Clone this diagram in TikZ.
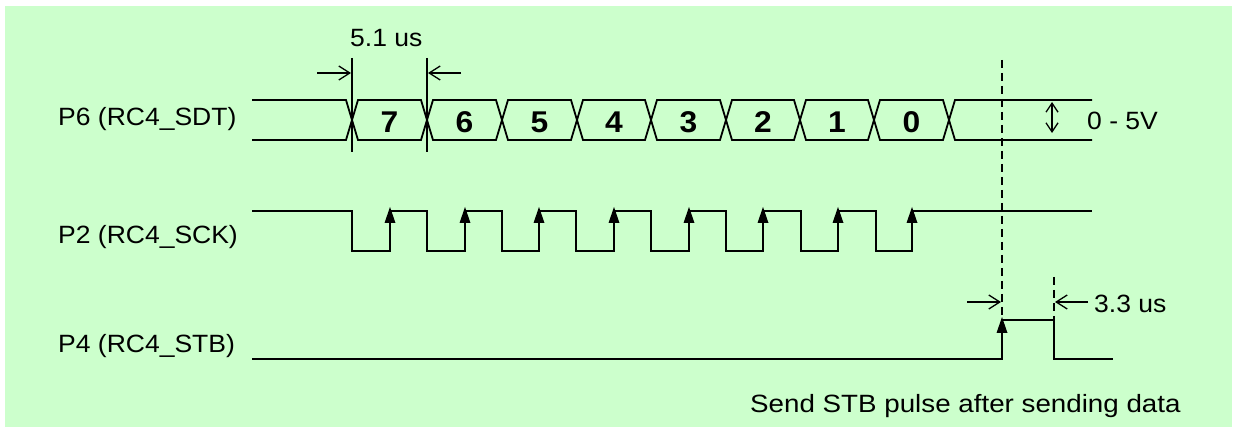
\documentclass[tikz,border=0pt]{standalone}
\usepackage{fontspec}
\setmainfont{Liberation Sans}[FakeStretch=1.06]
\newfontfamily\sendfont{Liberation Sans}[FakeStretch=1.11]
\usetikzlibrary{arrows.meta}
\definecolor{bggreen}{HTML}{CCFFCC}
\tikzset{
  lbl/.style={inner sep=0pt, anchor=base west, font=\fontsize{25}{30}\selectfont},
  digit/.style={inner sep=0pt, anchor=base, font=\fontsize{30}{34}\selectfont\bfseries},
  wave/.style={line width=1.8pt, line join=miter},
  marker/.style={line width=1.4pt},
  dimarrow/.style={line width=1.3pt, -{Straight Barb[length=11pt,width=14pt,line width=1.3pt]}},
  vdash/.style={line width=1.8pt, dash pattern=on 8pt off 5pt},
}
\begin{document}
\begin{tikzpicture}[x=1pt,y=-1pt]
\useasboundingbox (0,0) rectangle (1235,430);
\fill[white] (0,0) rectangle (1235,430);
\fill[bggreen] (5,6) rectangle (1232,427);

% labels
\node[lbl] (lsdt) at (58,126) {P6 (RC4\_SDT)};
\node[lbl] (lsck) at (58,244) {P2 (RC4\_SCK)};
\node[lbl] (lstb) at (58,353) {P4 (RC4\_STB)};
\node[lbl] (t51) at (350,47) {5.1 us};
\node[lbl] (t05) at (1087,130) {0 - 5V};
\node[lbl] (t33) at (1094,313) {3.3 us};
\node[lbl, font=\fontsize{25}{30}\sendfont] (tsend) at (750,413) {Send STB pulse after sending data};

% data bus
\draw[wave] (252,100) -- (346,100) -- (352,120) -- (346,140) -- (252,140);
\foreach \a/\b/\d in {352/427/7, 427/502/6, 502/577/5, 577/651/4, 651/726/3, 726/800/2, 800/874/1, 874/949/0}{
  \draw[wave] (\a,120) -- (\a+6,100) -- (\b-6,100) -- (\b,120) -- (\b-6,140) -- (\a+6,140) -- cycle;
  \node[digit] (d\d) at ({(\a+\b)/2},133) {\d};
}
\draw[wave] (1092,100) -- (955,100) -- (949,120) -- (955,140) -- (1092,140);

% 5.1 us markers
\coordinate (m1t) at (352,58); \coordinate (m1b) at (352,152);
\coordinate (m2t) at (427,58); \coordinate (m2b) at (427,152);
\draw[marker] (m1t) -- (m1b);
\draw[marker] (m2t) -- (m2b);
\coordinate (a1s) at (317,73); \coordinate (a1e) at (351,73);
\coordinate (a2s) at (461,73); \coordinate (a2e) at (428,73);
\draw[dimarrow] (a1s) -- (a1e);
\draw[dimarrow] (a2s) -- (a2e);

% 0 - 5V double arrow
\coordinate (vt) at (1052,102); \coordinate (vb) at (1052,133);
\draw[line width=1.3pt, {Straight Barb[length=9pt,width=12pt,line width=1.3pt]}-{Straight Barb[length=9pt,width=12pt,line width=1.3pt]}] (vt) -- (vb);

% clock
\draw[wave] (252,211) -- (352,211) -- (352,251)
  -- (390,251) -- (390,211) -- (427,211) -- (427,251)
  -- (465,251) -- (465,211) -- (502,211) -- (502,251)
  -- (539,251) -- (539,211) -- (576,211) -- (576,251)
  -- (614,251) -- (614,211) -- (651,211) -- (651,251)
  -- (689,251) -- (689,211) -- (726,211) -- (726,251)
  -- (763,251) -- (763,211) -- (801,211) -- (801,251)
  -- (838,251) -- (838,211) -- (876,211) -- (876,251)
  -- (912,251) -- (912,211) -- (1092,211);
\foreach \x in {390,465,539,614,689,763,838,912}{
  \fill (\x,207) -- (\x-5.5,223) -- (\x+5.5,223) -- cycle;
}

% strobe
\draw[wave] (252,359) -- (1002,359) -- (1002,320) -- (1054,320) -- (1054,359) -- (1113,359);
\fill (1002,317) -- (996.5,333) -- (1007.5,333) -- cycle;

% dashed markers
\coordinate (dt) at (1002,60); \coordinate (db) at (1002,320);
\draw[vdash] (dt) -- (db);
\coordinate (d2t) at (1054,277); \coordinate (d2b) at (1054,320);
\draw[vdash] (d2t) -- (d2b);

% 3.3 us arrows
\coordinate (b1s) at (967,302); \coordinate (b1e) at (1001,302);
\coordinate (b2s) at (1088,302); \coordinate (b2e) at (1055,302);
\draw[dimarrow] (b1s) -- (b1e);
\draw[dimarrow] (b2s) -- (b2e);
\end{tikzpicture}
\end{document}
